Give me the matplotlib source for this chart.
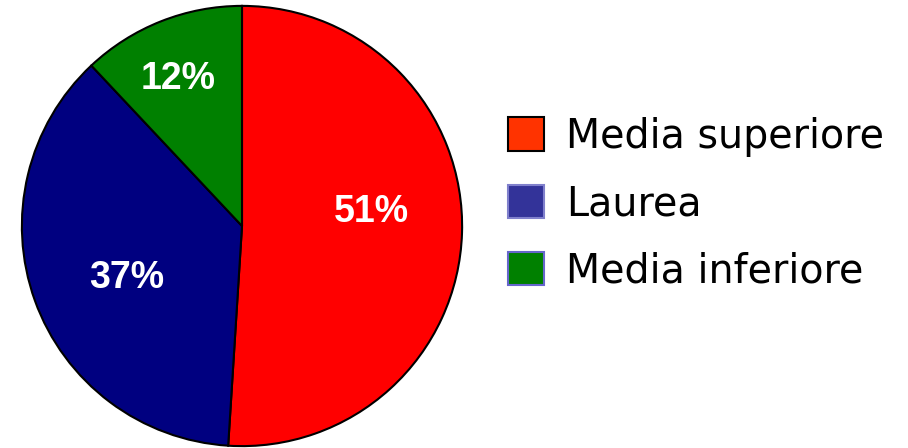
import numpy as np
import matplotlib
matplotlib.use("Agg")
from matplotlib import pyplot as plt
from matplotlib.patches import Patch

labels = ["Media superiore", "Laurea", "Media inferiore"]
values = [51, 37, 12]
pie_colors = ["#FF0000", "#000080", "#008000"]
legend_colors = ["#FF3300", "#333399", "#008000"]
legend_edges = ["#000000", "#8080CC", "#6666CC"]
# label placement: fraction of radius and angle shift (deg) from wedge middle
label_dist = [0.593, 0.575, 0.73]
label_shift = [7.9, 4.3, 1.8]

fig = plt.figure(figsize=(9.08, 4.48), dpi=100)
ax = fig.add_axes([20 / 908, 1 - 447 / 448, 444 / 908, 442 / 448])

wedges, texts = ax.pie(values, colors=pie_colors, startangle=90, counterclock=False,
                       wedgeprops=dict(edgecolor="black", linewidth=1.5))
ax.set_xlim(-1.004, 1.004)
ax.set_ylim(-1.004, 1.004)
ax.set_aspect("equal")

for w, v, d, s in zip(wedges, values, label_dist, label_shift):
    ang = np.deg2rad((w.theta1 + w.theta2) / 2 + s)
    ax.text(d * np.cos(ang), d * np.sin(ang), f"{v}%", ha="center", va="center",
            color="white", fontsize=27, fontweight="bold", family="Liberation Sans")

handles = [Patch(facecolor=c, edgecolor=e, linewidth=1.5) for c, e in zip(legend_colors, legend_edges)]
fig.legend(handles, labels, loc="center left", bbox_to_anchor=(508 / 908, 1 - 204 / 448),
           frameon=False, fontsize=28.5, handlelength=0.91, handleheight=0.91,
           handletextpad=0.56, labelspacing=0.69, borderaxespad=0, borderpad=0)

fig.savefig("out.png", dpi=100)
